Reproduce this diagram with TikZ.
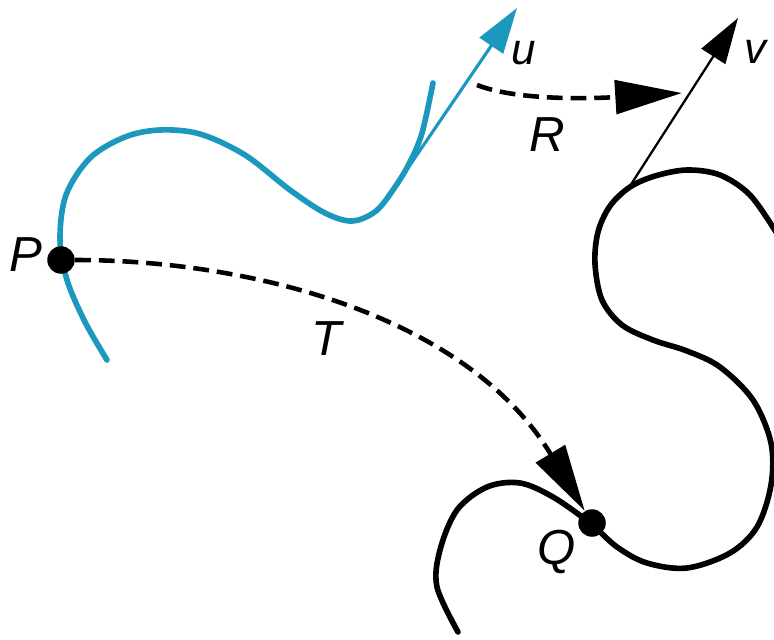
\documentclass[tikz,border=0pt]{standalone}
\usepackage{fontspec}
\setmainfont{Liberation Sans}
\usetikzlibrary{arrows.meta}
\definecolor{curveblue}{RGB}{28,152,190}
\begin{document}
\begin{tikzpicture}[x=0.02cm,y=-0.02cm,
  lbl/.style={inner sep=0pt, font=\itshape\fontsize{28}{30}\selectfont},
  smalllbl/.style={inner sep=0pt, font=\itshape\fontsize{25}{28}\selectfont},
  pointdot/.style={circle, fill=black, inner sep=0pt, minimum size=0.55cm},
  thickcurve/.style={line width=3.2pt, line cap=round},
  mapping/.style={line width=2.6pt, dash pattern=on 9pt off 4.5pt,
    -{Triangle[length=38pt,width=19pt]}},
  tangentvec/.style={-{Triangle[length=26pt,width=16pt]}}]
\useasboundingbox (0,0) rectangle (774,639);

% blue curve through P
\draw[thickcurve, curveblue] plot[smooth, tension=0.55] coordinates {
  (107,360) (85,322) (67,280) (60,240) (66,195) (90,158) (125,137)
  (160,130) (200,134) (245,155) (290,190) (325,213) (352,221)
  (376,211) (395,187) (410,162) (422,133) (433,83)};

% black S-shaped curve through Q
\draw[thickcurve] plot[smooth, tension=0.55] coordinates {
  (776,232) (750,195) (720,175) (687,170) (655,176) (630,187) (610,206)
  (598,232) (595,264) (602,300) (622,325) (653,340) (687,351) (720,367)
  (753,400) (771,443) (771,485) (757,527) (730,553) (687,568) (647,563)
  (617,547) (590,523) (553,497) (520,483) (487,487) (457,510) (440,550)
  (437,587) (458,632)};

% points P and Q
\node[pointdot] (P) at (61,260) {};
\node[pointdot] (Q) at (592,523) {};

% tangent vectors u and v
\coordinate (ubase) at (395,187);
\coordinate (utip) at (517,8);
\coordinate (vbase) at (630,186);
\coordinate (vtip) at (738,18);
\draw[curveblue, line width=1.8pt, tangentvec] (ubase) -- (utip);
\draw[line width=1.3pt, tangentvec] (vbase) -- (vtip);

% maps T and R
\coordinate (Rstart) at (477,85);
\coordinate (Rend) at (682,93);
\draw[mapping] (P) .. controls (260,260) and (470,320) .. (Q);
\draw[mapping] (Rstart) .. controls (515,100) and (585,99) .. (Rend);

% labels
\node[lbl] (Plbl) at (26,255) {P};
\node[lbl] (Qlbl) at (557,552) {Q};
\node[lbl] (Tlbl) at (327,339) {T};
\node[lbl] (Rlbl) at (547,135) {R};
\node[smalllbl] (ulbl) at (524,53) {u};
\node[smalllbl] (vlbl) at (755,52) {v};
\end{tikzpicture}
\end{document}
